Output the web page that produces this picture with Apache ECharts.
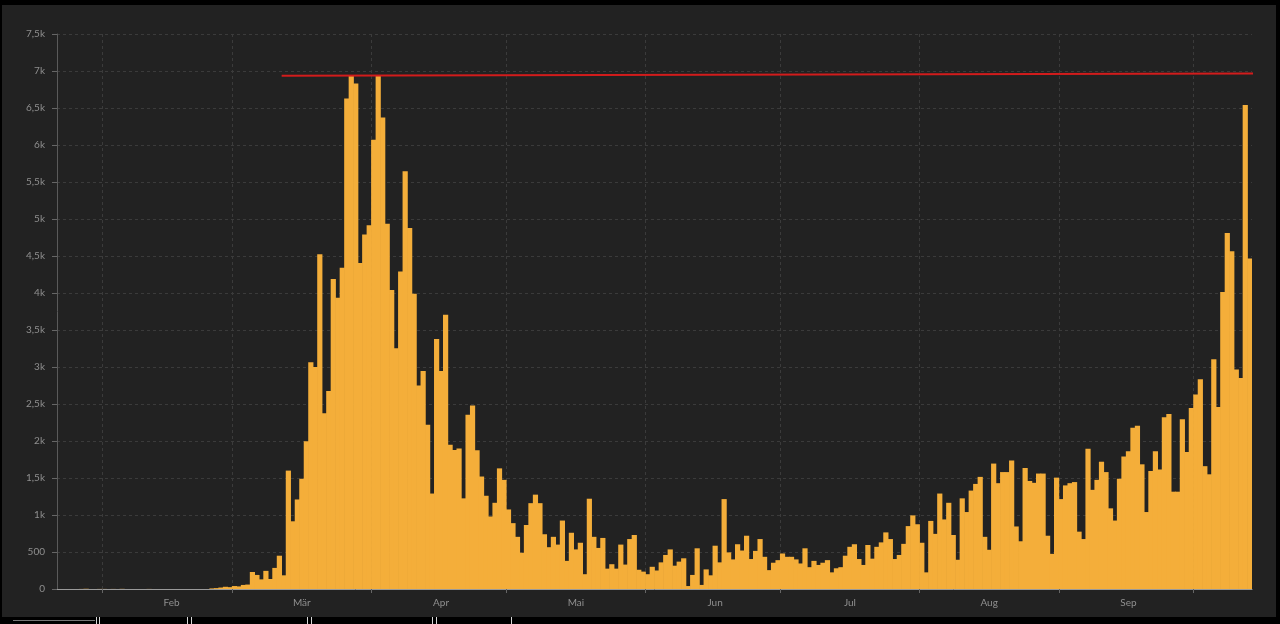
<!DOCTYPE html>
<html>
<head>
<meta charset="utf-8">
<script src="https://cdn.jsdelivr.net/npm/echarts@6/dist/echarts.min.js"></script>
<style>
  html, body { margin: 0; padding: 0; background: #000; width: 1280px; height: 624px; overflow: hidden; }
  #panel { position: absolute; left: 2px; top: 5px; width: 1274px; height: 612px; background: #222222; }
  #chart { position: absolute; left: 0; top: 0; width: 1280px; height: 624px; }
  .tab { position: absolute; background: #d8d8d8; }
</style>
</head>
<body>
<div id="panel"></div>
<div id="chart"></div>
<div class="tab" style="left:13px;top:620px;width:82px;height:1px;background:#777"></div>
<div class="tab" style="left:96px;top:617px;width:1px;height:7px"></div>
<div class="tab" style="left:99px;top:617px;width:1px;height:7px"></div>
<div class="tab" style="left:187px;top:617px;width:1px;height:7px"></div>
<div class="tab" style="left:191px;top:617px;width:1px;height:7px"></div>
<div class="tab" style="left:307px;top:617px;width:1px;height:7px"></div>
<div class="tab" style="left:311px;top:617px;width:1px;height:7px"></div>
<div class="tab" style="left:432px;top:617px;width:1px;height:7px"></div>
<div class="tab" style="left:436px;top:617px;width:1px;height:7px"></div>
<div class="tab" style="left:511px;top:617px;width:1px;height:7px"></div>
<script>
// ---- Data (daily new cases, 22 Jan 2020 – 13 Oct 2020) ----
const janValues = [0,0,0,0,0,1,3,0,0,1];
const febValues = [1,0,1,0,2,0,0,0,0,0,1,0,0,0,0,0,0,0,0,0,0,0,0,0,8,12,20,30,25];
const marValues = [40,35,55,60,230,190,130,245,135,285,450,185,1600,915,1210,1490,1995,3065,3000,4525,2375,2675,4190,3935,4340,6630,6935,6830,4405,4790,4915];
const aprValues = [6070,6935,6370,4935,4040,3255,4290,5645,4880,3990,2750,2945,2220,1290,3380,2945,3705,1950,1880,1900,1225,2355,2480,1875,1520,1260,980,1165,1630,1475];
const mayValues = [1075,890,705,490,865,1160,1275,1160,740,565,705,600,925,380,760,535,625,200,1220,705,555,690,275,335,275,600,330,675,730,260,235];
const junValues = [200,300,250,360,460,535,315,370,415,40,190,550,55,265,185,585,360,1215,495,400,605,520,720,405,515,675,435,255,355,390];
const julValues = [480,435,435,400,345,550,295,380,325,355,390,225,280,295,450,570,605,405,325,595,410,570,630,765,675,405,460,610,850,995,875];
const augValues = [625,225,920,745,1290,940,1165,730,395,1225,1040,1330,1420,1515,705,530,1695,1430,1580,1580,1735,845,645,1635,1460,1435,1560,1560,720,475,1505];
const sepValues = [1215,1400,1430,1445,775,675,1895,1340,1475,1720,1580,1090,925,1490,1790,1860,2180,2205,1685,1040,1595,1860,1615,2320,2365,1315,1315,2295,1850,2445];
const octValues = [2630,2835,1660,1550,3105,2460,4015,4810,4565,2965,2850,6540,4465];

// Red reference line (date, value)
const refLine = [['2020-03-12', 6935], ['2020-10-16', 6965]];

const monthNames = ['Jan','Feb','Mär','Apr','Mai','Jun','Jul','Aug','Sep','Okt','Nov','Dez'];
const yTicks = { min: 0, max: 7500, interval: 500 };

// ---- Build ----
const values = [].concat(janValues, febValues, marValues, aprValues, mayValues, junValues, julValues, augValues, sepValues, octValues);
const DAY = 86400000;
const t0 = Date.UTC(2020, 0, 22);
function isoOf(i) { return new Date(t0 + i * DAY).toISOString().slice(0, 10); }
function dayIndex(iso) { const p = iso.split('-').map(Number); return Math.round((Date.UTC(p[0], p[1] - 1, p[2]) - t0) / DAY); }
const categories = values.map((_, i) => isoOf(i));
const dayOf = s => Number(s.slice(8, 10));
const monthStarts = categories.map((c, i) => dayOf(c) === 1 ? i : -1).filter(i => i >= 0);

const chart = echarts.init(document.getElementById('chart'));
const textColor = '#8f8f8f';
const gridColor = '#3b3b3b';
const barColor = '#F4AE3A';

chart.setOption({
  animation: false,
  textStyle: { fontFamily: 'Lato, "Open Sans", sans-serif' },
  grid: { left: 57, right: 28, top: 34, bottom: 35 },
  xAxis: [{
    type: 'category',
    data: categories,
    axisLine: { lineStyle: { color: '#9a9a9a' } },
    axisTick: { show: false },
    axisLabel: {
      color: textColor, fontSize: 10, margin: 9,
      interval: (i, v) => dayOf(v) === 16,
      formatter: v => monthNames[Number(v.slice(5, 7)) - 1]
    },
    splitLine: { show: false }
  }, {
    type: 'value', min: 0, max: values.length, position: 'bottom',
    axisLine: { show: false },
    axisLabel: { show: false, customValues: monthStarts },
    axisTick: { show: true, length: 4, lineStyle: { color: '#666' }, customValues: monthStarts },
    splitLine: { show: true, lineStyle: { color: gridColor, type: [3, 3], width: 1 } }
  }],
  yAxis: {
    type: 'value',
    min: yTicks.min, max: yTicks.max, interval: yTicks.interval,
    axisLine: { show: true, lineStyle: { color: '#5a5a5a' } },
    axisTick: { show: true, length: 5, lineStyle: { color: '#666' } },
    axisLabel: {
      color: textColor, fontSize: 10, margin: 12,
      formatter: v => v < 1000 ? String(v) : String(v / 1000).replace('.', ',') + 'k'
    },
    splitLine: { show: true, lineStyle: { color: gridColor, type: [3, 3], width: 1 } }
  },
  series: [{
    type: 'bar',
    data: values,
    barWidth: 5.2,
    itemStyle: { color: barColor },
    silent: true
  }, {
    type: 'line',
    xAxisIndex: 1,
    data: refLine.map(p => [dayIndex(p[0]), p[1]]),
    symbol: 'none',
    clip: false,
    lineStyle: { color: '#d21c1c', width: 2 },
    z: 5,
    silent: true
  }]
});
</script>
</body>
</html>
